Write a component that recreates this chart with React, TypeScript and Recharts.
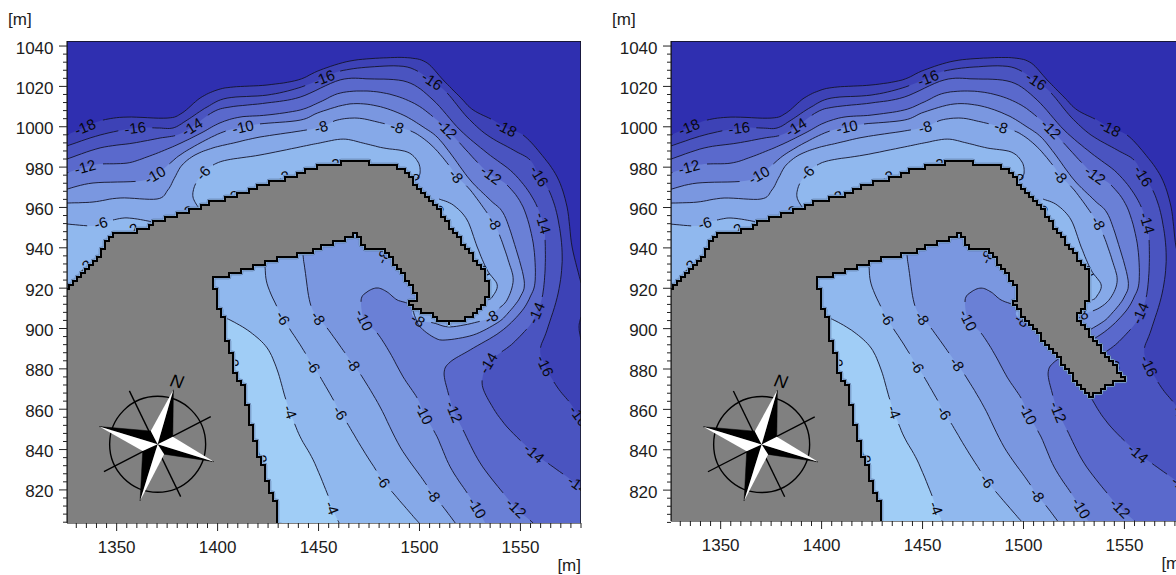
import React from 'react';
import { ScatterChart, Scatter, XAxis, YAxis } from 'recharts';

type P = [number, number, string?];

const FONT = '"Liberation Sans", Arial, sans-serif';
const xDomain: [number, number] = [1325.4, 1580];
const xTicks = Array.from({ length: 51 }, (_, i) => 1330 + i * 5);
const yTicks = Array.from({ length: 60 }, (_, i) => 804 + i * 4);

const bandColors = {
  deep: '#2f2fb0', m18: '#3d42b6', m16: '#4a54c0', m14: '#5a69cc', m12: '#6a80d6',
  m10: '#7a97e0', m8: '#86a9e8', m6: '#90b8ee', m4: '#a0cdf6',
};

const c18: P[] = [[1325.4,995.9],[1334.3,999.9,'-18'],[1343.2,1003.3],[1355.1,1004.8],[1375,1004.3],[1382.4,1006.8],[1391.3,1014.2],[1399.7,1018.2],[1407.7,1019.7],[1424.5,1020.7],[1439.9,1023.2],[1450.8,1028.1],[1465.6,1032.6],[1482,1034.1],[1495.4,1034.1],[1503.8,1031.6],[1511.7,1023.2],[1520.1,1014.7],[1526.6,1008.3],[1536.5,1003.3],[1542.9,999.4,'-18'],[1551.3,995.9],[1559.8,987],[1568.2,975.1],[1573.1,960.2],[1575.6,940.4],[1580,922.6]];
const c18Close: P[] = [[1585,922],[1585,800],[1320,800],[1320,996]];
const c18Blob: P[] = [[1580,905.7],[1579,900.8],[1580,894.3]];
const c18BlobClose: P[] = [[1585,894],[1585,906]];

const c16: P[] = [[1325.4,990.5],[1341.8,995.9],[1359.1,999.4,'-16'],[1370,999.4],[1377.9,999.4],[1384.9,1003.3],[1394.8,1009.8],[1404.7,1014.2],[1424.5,1015.7],[1439.9,1019.2],[1452.7,1024.2,'-16'],[1460.7,1027.6],[1475.5,1029.6],[1493.9,1029.6],[1506.3,1022.7,'-16'],[1513.7,1016.7],[1523.6,1004.8],[1533.5,995.9],[1546.4,988.5],[1554.8,983.5],[1559.3,975.6,'-16'],[1564.7,967.2],[1568.7,953.8],[1570.7,935.5],[1568.7,917.6],[1563.2,899.3],[1559.8,889.4],[1562.2,881.5,'-16'],[1568.2,871],[1574.6,863.1],[1579,856.7,'-16'],[1580,855.7]];
const c16Close: P[] = [[1585,855],[1585,800],[1320,800],[1320,990.5]];

const c14: P[] = [[1325.4,984],[1341.8,989.5],[1358.1,991.9],[1371.5,994.4],[1379.9,995.9],[1387.3,999.9,'-14'],[1397.7,1007.3],[1406.2,1009.8],[1424.5,1011.8],[1440.9,1014.7],[1460.7,1023.2],[1475.5,1023.7],[1493.9,1022.2],[1506.7,1013.3],[1520.1,998.4],[1533.5,987],[1546.4,977.1],[1555.8,965.2],[1561.3,952.3,'-14'],[1562.2,943.9],[1562.2,929],[1560.8,915.6],[1557.8,907.7,'-14'],[1554.8,901.8],[1546.4,892.8],[1540,887.9],[1534,882.9,'-14'],[1531,873],[1535,863.1],[1543.4,851.2],[1556.8,838.3,'-14'],[1566.2,831.4],[1578.6,822.5,'-14'],[1580,821.5]];
const c14Close: P[] = [[1585,821],[1585,800],[1320,800],[1320,984]];

const c12: P[] = [[1325.4,977.1],[1334.3,980.1,'-12'],[1341.8,981.5],[1355.1,982],[1365,985],[1376.4,989.5],[1384.9,993.4],[1392.8,997.4],[1401.2,1001.9],[1411.1,1004.8],[1424.5,1005.8],[1440.9,1008.3],[1450.8,1012.3],[1460.7,1016.7],[1474,1017.7],[1486.9,1015.7],[1498.8,1010.8],[1508.7,1003.3],[1513.7,998.9,'-12'],[1518.6,993.4],[1530,981],[1535.5,976.1,'-12'],[1543.4,971.1],[1551.3,960.2],[1556.3,942.4],[1557.3,924],[1554.8,915.6],[1549.9,907.7],[1540,898.3],[1525.1,889.4],[1515.2,883.4],[1512.2,878],[1514.2,868.1],[1517.2,858.7,'-12'],[1521.6,849.7],[1530,833.4],[1541.4,818.5],[1547.9,811.1,'-12'],[1556.3,803.6]];
const c12Close: P[] = [[1557,800],[1320,800],[1320,977]];

const c10Top: P[] = [[1325.4,969.1],[1338.3,972.1],[1361.6,973.1],[1369,976.1,'-10'],[1375.4,981],[1381.4,986],[1391.3,991.9],[1402.7,997.4],[1412.6,999.9,'-10'],[1421,1001.4],[1440.9,1003.3],[1450.8,1007.3],[1465.6,1011.3],[1479,1010.3],[1491.9,1005.8],[1501.8,999.9],[1508.7,994.9],[1515.2,987],[1525.1,973.6],[1535,963.7],[1541.4,957.3],[1546.4,943.9],[1551.8,924],[1549.9,915.6],[1543.9,907.7]];
const c10TipLeft: P[] = [[1538.5,902.8],[1526.6,896.8],[1512.7,894.3],[1506.8,895.8],[1500.3,900.8],[1497.8,905.7]];
const c10TipRight: P[] = [[1538.5,902.8],[1526.6,896.8],[1512.7,896],[1502.8,908.2]];
const c10Bay: P[] = [[1495.4,911.7],[1488.9,914.2],[1484,918.1],[1479,920.1],[1474,918.1],[1471.1,914.2],[1472.6,904.2,'-10'],[1479,897.8],[1485.4,887.9],[1491.9,876],[1498.8,865.6],[1502.3,857.7,'-10'],[1508.7,846.3],[1515.2,831.4],[1523.6,818.5],[1528.6,811.1,'-10'],[1532.5,803.6]];
const c10Close: P[] = [[1534,800],[1320,800],[1320,969]];

const c8Top: P[] = [[1325.4,962.2],[1338.3,962.7],[1351.7,964.7],[1370,964.2],[1375.4,968.7],[1378.9,975.1],[1382.4,981],[1388.8,986],[1397.7,989.5],[1407.7,991.9],[1421,994.9],[1440.9,997.9],[1451.3,999.9,'-8'],[1459.2,1003.3],[1469.1,1004.3],[1479,1002.4],[1488.9,999.9,'-8'],[1497.8,996.9],[1506.8,990],[1515.2,980.1],[1518.2,975.6,'-8'],[1525.1,968.7],[1533.5,957.3],[1537,952.3,'-8'],[1540,945.4],[1543.9,934],[1546.4,924]];
const c8TipLeft: P[] = [[1543.4,914.2],[1538.5,909.2],[1535.5,905.7,'-8'],[1528.6,903.2],[1515.2,900.8],[1506.8,902.8],[1499.3,904.2,'-8'],[1496.8,909.2]];
const c8TipRight: P[] = [[1543.4,915.6],[1537.5,910.2],[1528.6,906.7,'-8'],[1520.1,901.8],[1506.8,902.8],[1499.3,904.2,'-8'],[1496.8,909.2]];
const c8Rest: P[] = [[1510.2,919.1],[1490.4,963.7],[1442.3,953.8],[1442.3,937.5],[1443.3,929],[1445.8,912.7],[1449.8,905.2,'-8'],[1454.2,900.3],[1463.1,887.9],[1467.1,882.4,'-8'],[1471.6,876],[1480.5,861.1],[1490.4,841.3],[1501.8,825],[1506.8,817.5,'-8'],[1511.7,811.6],[1517.7,803.6]];
const c8Close: P[] = [[1519,800],[1320,800],[1320,962]];

const c6A: P[] = [[1325.4,951.8],[1338.3,950.8],[1342.2,952.3,'-6'],[1348.2,953.8],[1355.1,954.8],[1365.5,953.3],[1370.5,951.8]];
const c6ACLose: P[] = [[1366.5,939],[1320,914],[1320,952]];
const c6B: P[] = [[1390.3,960.2],[1387.8,965.2],[1388.8,971.1],[1392.8,977.1,'-6'],[1397.7,981],[1404.7,983.5],[1421,986],[1440.9,990],[1450.8,992],[1462.2,993.9],[1472.1,991.9],[1482,989.5],[1493.9,987.5],[1499.3,982.5],[1500.3,977.1],[1498.8,974.6]];
const c6BClose: P[] = [[1465.6,968.7],[1391.3,951.3]];
const c6C: P[] = [[1509.7,964.2],[1516.7,961.2],[1523.6,953.8],[1528.6,940.4],[1533.5,929],[1538.5,921.6],[1536,915.6],[1534,914.2]];
const c6CClose: P[] = [[1520,934],[1505,958.7]];
const c6D: P[] = [[1423.5,934],[1423.5,930.5],[1425,920.6],[1432.4,905.2,'-6'],[1440.9,891.9],[1447.3,881.5,'-6'],[1450.8,876],[1458.2,863.1],[1460.7,858.2,'-6'],[1464.1,853.2],[1472.1,839.8],[1482,824.5,'-6'],[1486.9,818.5],[1495.4,808.6],[1499.8,803.6]];
const c6DClose: P[] = [[1500,800],[1320,800],[1320,900],[1423.5,940]];

const c4: P[] = [[1402.7,905.2],[1406.2,904.2],[1416.1,898.3],[1424.5,890.4],[1429.5,879.5],[1433.4,866.1],[1435.9,858.7,'-4'],[1440.9,846.3],[1447.3,834.9],[1454.2,818.5],[1456.7,811.1,'-4'],[1460.2,803.6]];
const c4Close: P[] = [[1461,800],[1320,800],[1320,905]];

const shoreLabels: P[] = [[1334.3,930.5,'-2'],[1357.6,948.8,'-2'],[1384.4,957.7,'-2'],[1407.2,965.2,'-2'],[1432.4,975.1,'-2'],[1457.2,981.5,'-2'],[1496.8,974.6,'-2'],[1508.7,959.7,'-2'],[1531,928,'-2'],[1400.2,907.2,'-2'],[1407.6,883.9,'-2'],[1421.5,836.4,'-2'],[1426.5,811.6,'-2'],[1482,935.5,'-8']];
const shoreLabelsRight: P[] = [[1544.5,881.5,'-8']];

const landOuter: P[] = [[1320,917],[1325.4,920.1],[1331.8,926.5],[1340.3,935.5],[1345.2,943.9],[1348.2,947.8],[1355.6,948.3],[1361.6,949.3],[1370,953.8],[1377.9,956.3],[1389.8,960.2],[1397.7,963.7],[1406.2,965.2],[1414.6,968.7],[1421,972.1],[1429.5,973.6],[1434.4,975.1],[1440.9,977.6],[1447.3,980.1],[1457.2,982],[1465.6,983.5],[1474.5,983.5],[1475.5,982],[1487,981.5],[1493.9,977.6],[1498.8,970.1],[1508.7,960.2],[1515.2,950.3],[1523.6,938.9],[1532.5,927.5]];
const landTipLeft: P[] = [[1533.5,917.6],[1532.5,913.2],[1525.1,906.2],[1514.2,903.2],[1510.2,904.2],[1505.3,907.2],[1497.8,910.7],[1494.4,912.7],[1498.8,916.6],[1496.3,920.6]];
const landTipRight: P[] = [[1532.5,922.6],[1530.5,912.7],[1526.6,907.7],[1526.6,904.2],[1534,895.8],[1541.4,885.4],[1547.9,878],[1548.9,875.5],[1539.5,871],[1533,866.1],[1524.6,876],[1511.7,892.8],[1499.3,906.7],[1494.4,913.2],[1496.8,919.1]];
const landInner: P[] = [[1490.4,929],[1485.4,935.5],[1481.5,940.4],[1473.1,940.4],[1468.1,947.3],[1455.7,942.4],[1444.3,937.9],[1429.5,935],[1422.5,932.5],[1407.7,927.5],[1397.7,925.1],[1396.7,920.6],[1398.7,919.1],[1399.7,911.7],[1402.7,905.7],[1403.2,895.8],[1407.2,884.4],[1408.6,876],[1412.6,871],[1415.1,855.7],[1419.5,838.3],[1422.5,831.4],[1424.5,821.5],[1428.5,813.6],[1429.5,803.6],[1430.5,800],[1320,800]];

const frame: P[] = [[1325.4,1042.5],[1580,1042.5],[1580,803],[1325.4,803]];

const compassCenter: P[] = [[1370.3,842.6]];
const compassLines: P[][] = [[[1356.3,869.1],[1381.7,816.7]],[[1343.7,829.1],[1396.6,856.3]]];
const compassBlack: P[][] = [
  [[1378.1,869.6],[1377.8,846.4],[1370.3,842.6]],
  [[1398.2,834],[1373.5,837.7],[1370.3,842.6]],
  [[1361.6,814.6],[1362.9,839.3],[1370.3,842.6]],
  [[1341.4,851.4],[1366.9,849.2],[1370.3,842.6]],
];
const compassWhite: P[][] = [
  [[1378.1,869.6],[1366.9,849.2],[1370.3,842.6]],
  [[1398.2,834],[1377.8,846.4],[1370.3,842.6]],
  [[1361.6,814.6],[1373.5,837.7],[1370.3,842.6]],
  [[1341.4,851.4],[1362.9,839.3],[1370.3,842.6]],
];
const compassN: P[] = [[1379.9,874,'N']];

type Px = { x: number; y: number };
const toData = (a: P[]) => a.map((p) => ({ x: p[0], y: p[1], text: p[2] }));

function spline(pts: Px[]): Px[][] {
  const out: Px[][] = [];
  for (let i = 0; i < pts.length - 1; i++) {
    const p0 = pts[Math.max(0, i - 1)], p1 = pts[i], p2 = pts[i + 1], p3 = pts[Math.min(pts.length - 1, i + 2)];
    const seg: Px[] = [];
    for (let k = 0; k <= 8; k++) {
      const t = k / 8, t2 = t * t, t3 = t2 * t;
      seg.push({
        x: 0.5 * (2 * p1.x + (p2.x - p0.x) * t + (2 * p0.x - 5 * p1.x + 4 * p2.x - p3.x) * t2 + (3 * p1.x - p0.x - 3 * p2.x + p3.x) * t3),
        y: 0.5 * (2 * p1.y + (p2.y - p0.y) * t + (2 * p0.y - 5 * p1.y + 4 * p2.y - p3.y) * t2 + (3 * p1.y - p0.y - 3 * p2.y + p3.y) * t3),
      });
    }
    out.push(seg);
  }
  return out;
}
const Nothing = () => null;

function fillLayer(key: string, contour: P[], close: P[], fill: string) {
  const n = contour.length;
  return (
    <Scatter key={key} data={toData([...contour, ...close])} shape={Nothing} isAnimationActive={false}
      line={(p: any) => {
        const pts: Px[] = p.points;
        const curve = spline(pts.slice(0, n)).flat();
        const all = [...curve, ...pts.slice(n)];
        const d = all.map((q, i) => `${i ? 'L' : 'M'}${q.x.toFixed(1)} ${q.y.toFixed(1)}`).join('') + 'Z';
        return <path d={d} fill={fill} stroke="none" />;
      }} />
  );
}

function lineLayer(key: string, contour: P[]) {
  const labels = contour.map((c, i) => (c[2] ? i : -1)).filter((i) => i >= 0);
  return (
    <Scatter key={key} data={toData(contour)} shape={Nothing} isAnimationActive={false}
      line={(p: any) => {
        const pts: Px[] = p.points;
        const curve = spline(pts).flat();
        let d = '';
        let pen = false;
        curve.forEach((q) => {
          const hidden = labels.some((i) => {
            const r = (contour[i][2] as string).length * 5 + 2;
            return Math.hypot(q.x - pts[i].x, q.y - pts[i].y) < r;
          });
          if (hidden) { pen = false; return; }
          d += `${pen ? 'L' : 'M'}${q.x.toFixed(1)} ${q.y.toFixed(1)}`;
          pen = true;
        });
        return <path d={d} fill="none" stroke="#14142a" strokeWidth={0.9} />;
      }} />
  );
}

function labelData(contour: P[]) {
  const res: any[] = [];
  contour.forEach((c, i) => {
    if (!c[2]) return;
    const a = contour[Math.max(0, i - 1)], b = contour[Math.min(contour.length - 1, i + 1)];
    let angle = (Math.atan2(-(b[1] - a[1]), b[0] - a[0]) * 180) / Math.PI;
    if (angle > 90) angle -= 180;
    if (angle < -90) angle += 180;
    res.push({ x: c[0], y: c[1], text: c[2], angle });
  });
  return res;
}

const LabelMark = (p: any) => (
  <text x={p.cx} y={p.cy} dy="0.36em" textAnchor="middle" fontFamily={FONT} fontSize={15} fill="#08080f"
    transform={`rotate(${p.payload.angle} ${p.cx} ${p.cy})`}>{p.payload.text}</text>
);

function labelLayer(key: string, data: any[]) {
  return <Scatter key={key} data={data} shape={LabelMark} isAnimationActive={false} />;
}

function landPath(pts: Px[]) {
  const cell = 4;
  let d = '';
  let cx = NaN, cy = NaN;
  const closed = [...pts, pts[0]];
  for (let i = 0; i < closed.length - 1; i++) {
    const a = closed[i], b = closed[i + 1];
    const steps = Math.max(1, Math.ceil(Math.hypot(b.x - a.x, b.y - a.y)));
    for (let k = 0; k <= steps; k++) {
      const gx = Math.round((a.x + ((b.x - a.x) * k) / steps) / cell) * cell + 1;
      const gy = Math.round((a.y + ((b.y - a.y) * k) / steps) / cell) * cell + 1;
      if (isNaN(cx)) { d += `M${gx} ${gy}`; }
      else if (gx !== cx || gy !== cy) {
        if (gx !== cx) d += `H${gx}`;
        if (gy !== cy) d += `V${gy}`;
      }
      cx = gx; cy = gy;
    }
  }
  return d + 'Z';
}

function gridLand(key: string, land: P[]) {
  return (
    <Scatter key={key} data={toData(land)} shape={Nothing} isAnimationActive={false}
      line={(p: any) => {
        const d = landPath(p.points);
        return (
          <g>
            <path d={d} fill="none" stroke="#55709c" strokeWidth={4.4} strokeLinejoin="round" />
            <path d={d} fill="none" stroke="#9cc4f0" strokeWidth={3.2} strokeLinejoin="round" />
            <path d={d} fill="#808080" stroke="#000" strokeWidth={2} strokeLinejoin="miter" />
          </g>
        );
      }} />
  );
}

function polyLayer(key: string, pts: P[], fill: string, stroke = 'none', width = 0) {
  return (
    <Scatter key={key} data={toData(pts)} shape={Nothing} isAnimationActive={false}
      line={(p: any) => {
        const d = p.points.map((q: Px, i: number) => `${i ? 'L' : 'M'}${q.x} ${q.y}`).join('') + (fill === 'none' && pts.length === 2 ? '' : 'Z');
        return <path d={d} fill={fill} stroke={stroke} strokeWidth={width} strokeLinejoin="round" />;
      }} />
  );
}

const XTick = (p: any) => {
  const v = p.payload.value;
  const major = v % 50 === 0;
  return (
    <g>
      <line x1={p.x} x2={p.x} y1={p.y} y2={p.y + (major ? 8 : 5)} stroke="#222" strokeWidth={1} />
      {major && <text x={p.x} y={p.y + 30} textAnchor="middle" fontFamily={FONT} fontSize={17} fill="#1c1c1c">{v}</text>}
    </g>
  );
};
const YTick = (p: any) => {
  const v = p.payload.value;
  const major = (v - 1040) % 20 === 0;
  return (
    <g>
      <line x1={p.x - (major ? 8 : 4)} x2={p.x} y1={p.y} y2={p.y} stroke="#222" strokeWidth={1} />
      {major && <text x={p.x - 13.5} y={p.y + 7.5} textAnchor="end" fontFamily={FONT} fontSize={17} fill="#1c1c1c">{v}</text>}
    </g>
  );
};

function Panel({ left, bottom, yMin, right }: { left: number; bottom: number; yMin: number; right: boolean }) {
  const c10 = [...c10Top, ...(right ? c10TipRight : c10TipLeft), ...c10Bay];
  const c8 = [...c8Top, ...(right ? c8TipRight : c8TipLeft), ...c8Rest];
  const land = [...landOuter, ...(right ? landTipRight : landTipLeft), ...landInner];
  const all = [c18, c18Blob, c16, c14, c12, c10, c8, c6A, c6B, c6C, c6D, c4];
  const allLabels = all.flatMap(labelData).concat(labelData(shoreLabels)).concat(right ? labelData(shoreLabelsRight) : []);
  const plotTop = 41;
  return (
    <div style={{ position: 'absolute', left, top: 0 }}>
      <ScatterChart width={600} height={575} margin={{ top: plotTop, left: 0, right: 19, bottom: 0 }}>
        <XAxis type="number" dataKey="x" domain={xDomain} allowDataOverflow ticks={xTicks} interval={0}
          height={bottom} tickLine={false} tickSize={0} tickMargin={0} tick={XTick} stroke="#000"
          label={{ content: (q: any) => <text x={q.viewBox.x + q.viewBox.width} y={q.viewBox.y + 48} textAnchor="end" fontFamily={FONT} fontSize={17} fill="#1c1c1c">[m]</text> }} />
        <YAxis type="number" dataKey="y" domain={[yMin, 1042.5]} allowDataOverflow ticks={yTicks} interval={0}
          width={67} tickLine={false} tickSize={0} tickMargin={0} tick={YTick} stroke="#000"
          label={{ content: (q: any) => <text x={q.viewBox.x + 8} y={q.viewBox.y - 16} fontFamily={FONT} fontSize={17} fill="#1c1c1c">[m]</text> }} />
        {polyLayer('bg', [[1320, 1050], [1585, 1050], [1585, 800], [1320, 800]], bandColors.deep)}
        {fillLayer('f18', c18, c18Close, bandColors.m18)}
        {fillLayer('f18b', c18Blob, c18BlobClose, bandColors.deep)}
        {fillLayer('f16', c16, c16Close, bandColors.m16)}
        {fillLayer('f14', c14, c14Close, bandColors.m14)}
        {fillLayer('f12', c12, c12Close, bandColors.m12)}
        {fillLayer('f10', c10, c10Close, bandColors.m10)}
        {fillLayer('f8', c8, c8Close, bandColors.m8)}
        {fillLayer('f6a', c6A, c6ACLose, bandColors.m6)}
        {fillLayer('f6b', c6B, c6BClose, bandColors.m6)}
        {fillLayer('f6c', c6C, c6CClose, bandColors.m6)}
        {fillLayer('f6d', c6D, c6DClose, bandColors.m6)}
        {fillLayer('f4', c4, c4Close, bandColors.m4)}
        {all.map((c, i) => lineLayer(`l${i}`, c))}
        {labelLayer('labels', allLabels)}
        {gridLand('land', land)}
        <Scatter key="ring" data={toData(compassCenter)} isAnimationActive={false}
          shape={(p: any) => <circle cx={p.cx} cy={p.cy} r={48} fill="none" stroke="#000" strokeWidth={1.4} />} />
        {compassLines.map((l, i) => polyLayer(`cl${i}`, l, 'none', '#000', 1.4))}
        {compassBlack.map((t, i) => polyLayer(`cb${i}`, t, '#000', '#000', 0.5))}
        {compassWhite.map((t, i) => polyLayer(`cw${i}`, t, '#fff', 'none', 0))}
        <Scatter key="n" data={toData(compassN)} isAnimationActive={false}
          shape={(p: any) => <text x={p.cx} y={p.cy} dy="0.36em" textAnchor="middle" fontFamily={FONT} fontSize={18} fontStyle="italic" fill="#000" transform={`rotate(12 ${p.cx} ${p.cy})`}>{p.payload.text}</text>} />
        {polyLayer('frame', frame, 'none', '#111', 1.4)}
      </ScatterChart>
    </div>
  );
}

export default function App() {
  return (
    <div style={{ position: 'absolute', left: 0, top: 0, width: 1176, height: 575, overflow: 'hidden', background: '#fff' }}>
      <Panel left={0} bottom={52} yMin={803.6} right={false} />
      <Panel left={604} bottom={54} yMin={804.7} right />
    </div>
  );
}
